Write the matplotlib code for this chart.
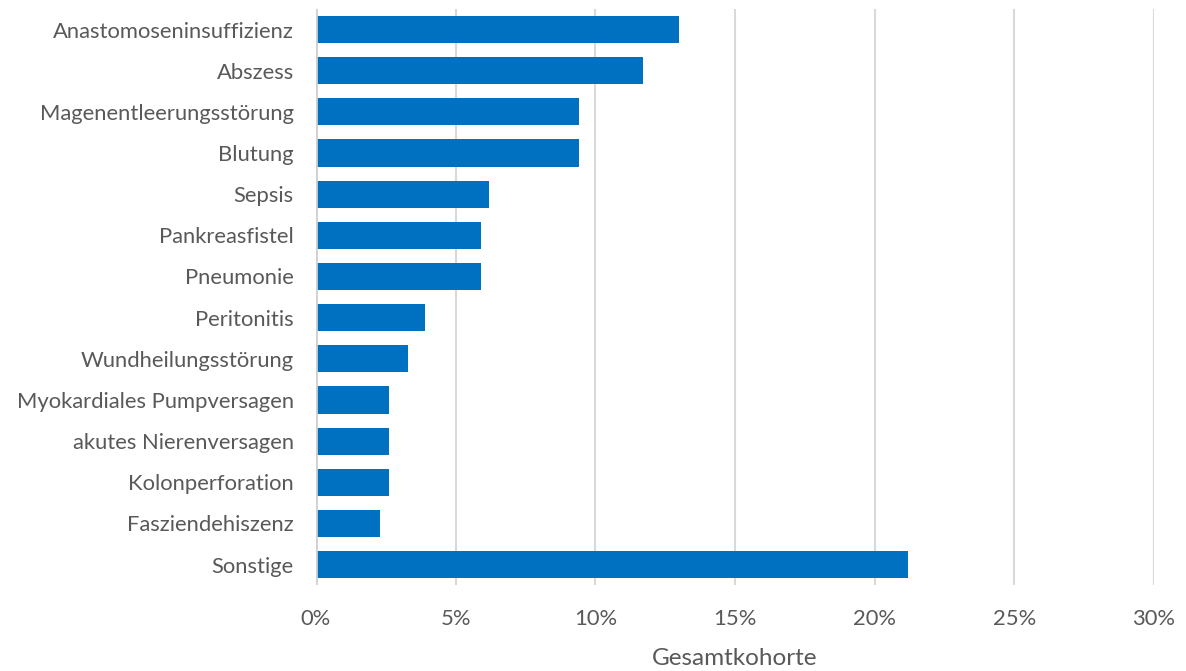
import matplotlib.pyplot as plt
from matplotlib.ticker import PercentFormatter

# Komplikationen (Anteil an der Gesamtkohorte in %)
categories = [
    'Anastomoseninsuffizienz', 'Abszess', 'Magenentleerungsstörung', 'Blutung',
    'Sepsis', 'Pankreasfistel', 'Pneumonie', 'Peritonitis',
    'Wundheilungsstörung', 'Myokardiales Pumpversagen', 'akutes Nierenversagen',
    'Kolonperforation', 'Fasziendehiszenz', 'Sonstige',
]
values = [13.0, 11.7, 9.4, 9.4, 6.2, 5.9, 5.9, 3.9, 3.3, 2.6, 2.6, 2.6, 2.3, 21.2]
xticks = [0, 5, 10, 15, 20, 25, 30]

plt.rcParams['font.family'] = ['Lato', 'DejaVu Sans']
text_color = '#595959'

fig = plt.figure(figsize=(11.86, 6.71), dpi=100)
ax = fig.add_axes([0.2664, 0.128, 0.7066, 0.8586])

ypos = range(len(categories))
ax.barh(ypos, values, height=0.66, color='#0070C0', zorder=3)

ax.set_xlim(0, 30)
ax.set_ylim(len(categories) - 0.5, -0.5)
ax.set_xticks(xticks)
ax.xaxis.set_major_formatter(PercentFormatter(decimals=0))
ax.set_yticks(list(ypos))
ax.set_yticklabels(categories)

ax.grid(axis='x', color='#D9D9D9', linewidth=1.5, zorder=0)
ax.axvline(0, color='#D0D0D0', linewidth=2, zorder=4)
for s in ax.spines.values():
    s.set_visible(False)

ax.tick_params(axis='both', length=0, labelsize=15.8, labelcolor=text_color)
ax.tick_params(axis='y', pad=16)
ax.tick_params(axis='x', pad=17)
ax.set_xlabel('Gesamtkohorte', fontsize=17.5, color=text_color, labelpad=14)

fig.savefig('out.png', dpi=100)
